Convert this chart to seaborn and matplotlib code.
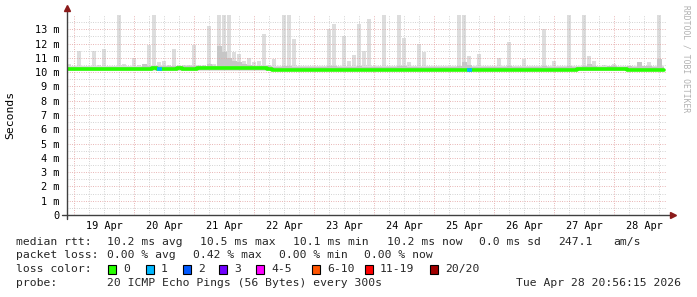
import numpy as np
import pandas as pd
import matplotlib
matplotlib.use("Agg")
import matplotlib.pyplot as plt
from matplotlib.patches import Rectangle
import seaborn as sns

# ---------------- data (2-hour bins starting Sat Apr 18 20:56:15) ----------------
BIN_HOURS = 2
smoke_top = [
    10.6, 10.45, 11.5, 10.45, 10.45, 11.5, 10.5, 11.6, 10.45, 10.45,
    14.0, 10.6, 10.45, 11.0, 10.5, 10.6, 11.9, 14.0, 10.7, 10.8,
    10.5, 11.6, 10.5, 10.5, 10.5, 11.9, 10.5, 10.5, 13.2, 10.6,
    14.0, 14.0, 14.0, 11.4, 11.3, 10.8, 11.0, 10.7, 10.8, 12.7,
    10.5, 10.9, 10.45, 14.0, 14.0, 12.3, 10.45, 10.45, 10.45, 10.45,
    10.45, 10.45, 13.0, 13.4, 10.45, 12.5, 10.8, 11.2, 13.4, 11.5,
    13.7, 10.45, 10.45, 14.0, 10.45, 10.45, 14.0, 12.4, 10.7, 10.45,
    12.0, 11.4, 10.45, 10.45, 10.45, 10.45, 10.45, 10.45, 14.0, 14.0,
    11.1, 10.45, 11.3, 10.45, 10.45, 10.45, 11.0, 10.45, 12.1, 10.45,
    10.45, 10.9, 10.45, 10.45, 10.45, 13.0, 10.45, 10.8, 10.45, 10.45,
    14.0, 10.45, 10.45, 14.0, 11.1, 10.8, 10.45, 10.5, 10.45, 10.6,
    10.45, 10.45, 10.45, 10.45, 10.7, 10.45, 10.7, 10.45, 14.0, 10.45,
]
smoke_mid = [
    10.36, 10.36, 10.36, 10.36, 10.36, 10.36, 10.36, 10.36, 10.36, 10.36,
    10.36, 10.36, 10.36, 10.36, 10.36, 10.6, 10.4, 10.45, 10.4, 10.4,
    10.4, 10.4, 10.4, 10.4, 10.4, 10.4, 10.4, 10.4, 10.6, 10.45,
    11.8, 11.4, 11.0, 10.8, 10.7, 10.6, 10.5, 10.45, 10.45, 10.45,
    10.4, 10.36, 10.36, 10.4, 10.4, 10.36, 10.36, 10.36, 10.36, 10.36,
    10.36, 10.36, 10.4, 10.4, 10.36, 10.36, 10.36, 10.36, 10.4, 10.36,
    10.36, 10.36, 10.36, 10.36, 10.36, 10.36, 10.4, 10.45, 10.36, 10.36,
    10.36, 10.36, 10.36, 10.36, 10.36, 10.36, 10.36, 10.36, 10.45, 10.7,
    10.5, 10.36, 10.36, 10.36, 10.36, 10.36, 10.36, 10.36, 10.4, 10.36,
    10.36, 10.36, 10.36, 10.36, 10.36, 10.4, 10.36, 10.36, 10.36, 10.36,
    10.45, 10.36, 10.36, 10.45, 10.6, 10.45, 10.36, 10.36, 10.4, 10.4,
    10.36, 10.36, 10.4, 10.36, 10.7, 10.4, 10.45, 10.36, 10.9, 10.36,
]
median_rtt = [
    10.20, 10.20, 10.19, 10.20, 10.20, 10.21, 10.20, 10.19, 10.20, 10.20,
    10.21, 10.20, 10.20, 10.20, 10.24, 10.25, 10.25, 10.26, 10.25, 10.24,
    10.25, 10.25, 10.26, 10.25, 10.25, 10.25, 10.26, 10.27, 10.28, 10.28,
    10.28, 10.29, 10.28, 10.28, 10.28, 10.27, 10.28, 10.28, 10.27, 10.26,
    10.24, 10.17, 10.17, 10.17, 10.16, 10.17, 10.17, 10.17, 10.18, 10.17,
    10.17, 10.16, 10.17, 10.17, 10.17, 10.18, 10.17, 10.17, 10.17, 10.16,
    10.17, 10.17, 10.17, 10.17, 10.17, 10.16, 10.16, 10.16, 10.17, 10.17,
    10.17, 10.17, 10.16, 10.16, 10.17, 10.17, 10.17, 10.17, 10.18, 10.18,
    10.18, 10.17, 10.17, 10.17, 10.17, 10.17, 10.17, 10.17, 10.17, 10.17,
    10.17, 10.18, 10.17, 10.17, 10.17, 10.17, 10.17, 10.18, 10.18, 10.18,
    10.18, 10.18, 10.19, 10.20, 10.21, 10.21, 10.22, 10.22, 10.22, 10.21,
    10.21, 10.20, 10.18, 10.14, 10.13, 10.13, 10.12, 10.13, 10.15, 10.16,
]
smoke_floor = 10.06
smoke_band = 10.45
loss_bins = [18, 80]
loss_level = [1, 1]

day_labels = ["19 Apr", "20 Apr", "21 Apr", "22 Apr", "23 Apr",
              "24 Apr", "25 Apr", "26 Apr", "27 Apr", "28 Apr"]
first_midnight_h = 3.0625          # 19 Apr 00:00 relative to start
y_labels = ["0", "1 m", "2 m", "3 m", "4 m", "5 m", "6 m", "7 m",
            "8 m", "9 m", "10 m", "11 m", "12 m", "13 m"]

loss_labels = ["0", "1", "2", "3", "4-5", "6-10", "11-19", "20/20"]
loss_colors = ["#26ff00", "#00b8ff", "#0059ff", "#7000ff",
               "#ff00ff", "#ff5500", "#ff0000", "#a00000"]

rtt_row = [("median rtt:", 16), ("10.2 ms avg", 107), ("10.5 ms max", 200),
           ("10.1 ms min", 293), ("10.2 ms now", 387), ("0.0 ms sd", 479),
           ("247.1", 558), ("am/s", 613)]
loss_row = [("packet loss:", 16), ("0.00 % avg", 107), ("0.42 % max", 193),
            ("0.00 % min", 279), ("0.00 % now", 364)]
probe_text = "20 ICMP Echo Pings (56 Bytes) every 300s"
date_text = "Tue Apr 28 20:56:15 2026"

# ---------------- figure ----------------
W, H = 697, 297
sns.set_theme(style="white")
plt.rcParams["font.family"] = ["DejaVu Sans Mono", "DejaVu Sans"]

fig = plt.figure(figsize=(W / 100, H / 100), dpi=100)
fig.patch.set_facecolor("white")
ax = fig.add_axes([66.5 / W, 82 / H, 600 / W, 200 / H])
ax.set_facecolor("white")

n = len(smoke_top)
edges = np.minimum(np.arange(n + 1) * BIN_HOURS, 239.0)
centers = np.arange(n) * BIN_HOURS + BIN_HOURS / 2
band_e = [min(v, smoke_band) for v in smoke_top] + [min(smoke_top[-1], smoke_band)]
mid_e = smoke_mid + [smoke_mid[-1]]
med_e = median_rtt + [median_rtt[-1]]

# base smoke band
ax.fill_between(edges, smoke_floor, band_e, step="post", color="#DDDDDD", lw=0, zorder=1)
# smoke spikes (narrow, like the rrdtool columns)
spk_x = [c for c, v in zip(centers, smoke_top) if v > smoke_band]
spk_v = [v for v in smoke_top if v > smoke_band]
ax.bar(spk_x, [v - smoke_floor for v in spk_v], bottom=smoke_floor, width=1.4,
       color="#DDDDDD", lw=0, zorder=1)
ax.fill_between(edges, smoke_floor + 0.08, mid_e, step="post", color="#C6C6C6", lw=0, zorder=1.5)

# grid (drawn over the smoke, like rrdtool)
six_h = [first_midnight_h + 6 * k for k in range(40) if first_midnight_h + 6 * k < 240]
midnights = [h for i, h in enumerate(six_h) if i % 4 == 0]
minor_v = [h for i, h in enumerate(six_h) if i % 4 != 0]
dot = (0, (0.8, 1.6))
ax.vlines(minor_v, 0, 14, colors="#C8C8C8", linestyles=dot, lw=0.7, zorder=2)
ax.vlines(midnights, 0, 14, colors="#E3A3A3", linestyles=dot, lw=0.7, zorder=2.1)
ax.hlines([k + 0.5 for k in range(14)], 0, 240, colors="#C8C8C8", linestyles=dot, lw=0.7, zorder=2)
ax.hlines(list(range(1, 14)), 0, 240, colors="#E3A3A3", linestyles=dot, lw=0.7, zorder=2.1)

# median line
df = pd.DataFrame({"hour": edges, "rtt": med_e})
sns.lineplot(data=df, x="hour", y="rtt", drawstyle="steps-post", color=loss_colors[0],
             linewidth=2.6, ax=ax, zorder=4, estimator=None, sort=False)
for b, lv in zip(loss_bins, loss_level):
    ax.hlines(median_rtt[b], b * BIN_HOURS, b * BIN_HOURS + BIN_HOURS,
              colors=loss_colors[lv], lw=2.6, zorder=5)

ax.set_xlim(0, 240)
ax.set_ylim(0, 14)
ax.set_xlabel("")
ax.set_ylabel("")
for s in ax.spines.values():
    s.set_visible(False)

noons = [first_midnight_h + 12 + 24 * k for k in range(len(day_labels))]
ax.set_xticks(noons)
ax.set_xticklabels(day_labels, fontsize=7.4, color="#000000")
ax.set_yticks(list(range(14)))
ax.set_yticklabels(y_labels, fontsize=7.4, color="#000000")
ax.tick_params(axis="x", length=0, pad=4)
ax.tick_params(axis="y", length=0, pad=5)

# axes with arrows
ax.plot([-0.007, 1.006], [0, 0], transform=ax.transAxes, color="#404040", lw=1.0,
        clip_on=False, zorder=6)
ax.plot([0, 0], [-0.02, 1.03], transform=ax.transAxes, color="#404040", lw=1.0,
        clip_on=False, zorder=6)
ax.plot([1.01], [0], transform=ax.transAxes, marker=">", color="#8B1A1A", ms=4,
        clip_on=False, zorder=7)
ax.plot([0], [1.033], transform=ax.transAxes, marker="^", color="#8B1A1A", ms=4,
        clip_on=False, zorder=7)

# labels
fig.text(10 / W, 1 - 115 / H, "Seconds", rotation=90, ha="center", va="center",
         fontsize=8.2, color="#000000")
fig.text(686 / W, 1 - 5 / H, "RRDTOOL / TOBI OETIKER", rotation=270, ha="center",
         va="top", fontsize=5.8, color="#B0B0B0")

LEG_FS = 8.2
rows_y = [241.7, 255.3, 269.0, 282.7]
for txt, x in rtt_row:
    fig.text(x / W, 1 - rows_y[0] / H, txt, ha="left", va="center", fontsize=LEG_FS)
for txt, x in loss_row:
    fig.text(x / W, 1 - rows_y[1] / H, txt, ha="left", va="center", fontsize=LEG_FS)
fig.text(16 / W, 1 - rows_y[2] / H, "loss color:", ha="left", va="center", fontsize=LEG_FS)
sq_x = [108, 146, 183, 219, 256, 312, 365, 430]
for lab, col, x in zip(loss_labels, loss_colors, sq_x):
    fig.patches.append(Rectangle((x / W, 1 - (rows_y[2] + 4.5) / H), 8 / W, 8.5 / H,
                                 transform=fig.transFigure, facecolor=col,
                                 edgecolor="#000000", lw=0.8))
    fig.text((x + 15) / W, 1 - rows_y[2] / H, lab, ha="left", va="center", fontsize=LEG_FS)
fig.text(16 / W, 1 - rows_y[3] / H, "probe:", ha="left", va="center", fontsize=LEG_FS)
fig.text(107 / W, 1 - rows_y[3] / H, probe_text, ha="left", va="center", fontsize=LEG_FS)
fig.text(681 / W, 1 - rows_y[3] / H, date_text, ha="right", va="center", fontsize=LEG_FS)

fig.savefig("out.png", dpi=100, facecolor="white")
